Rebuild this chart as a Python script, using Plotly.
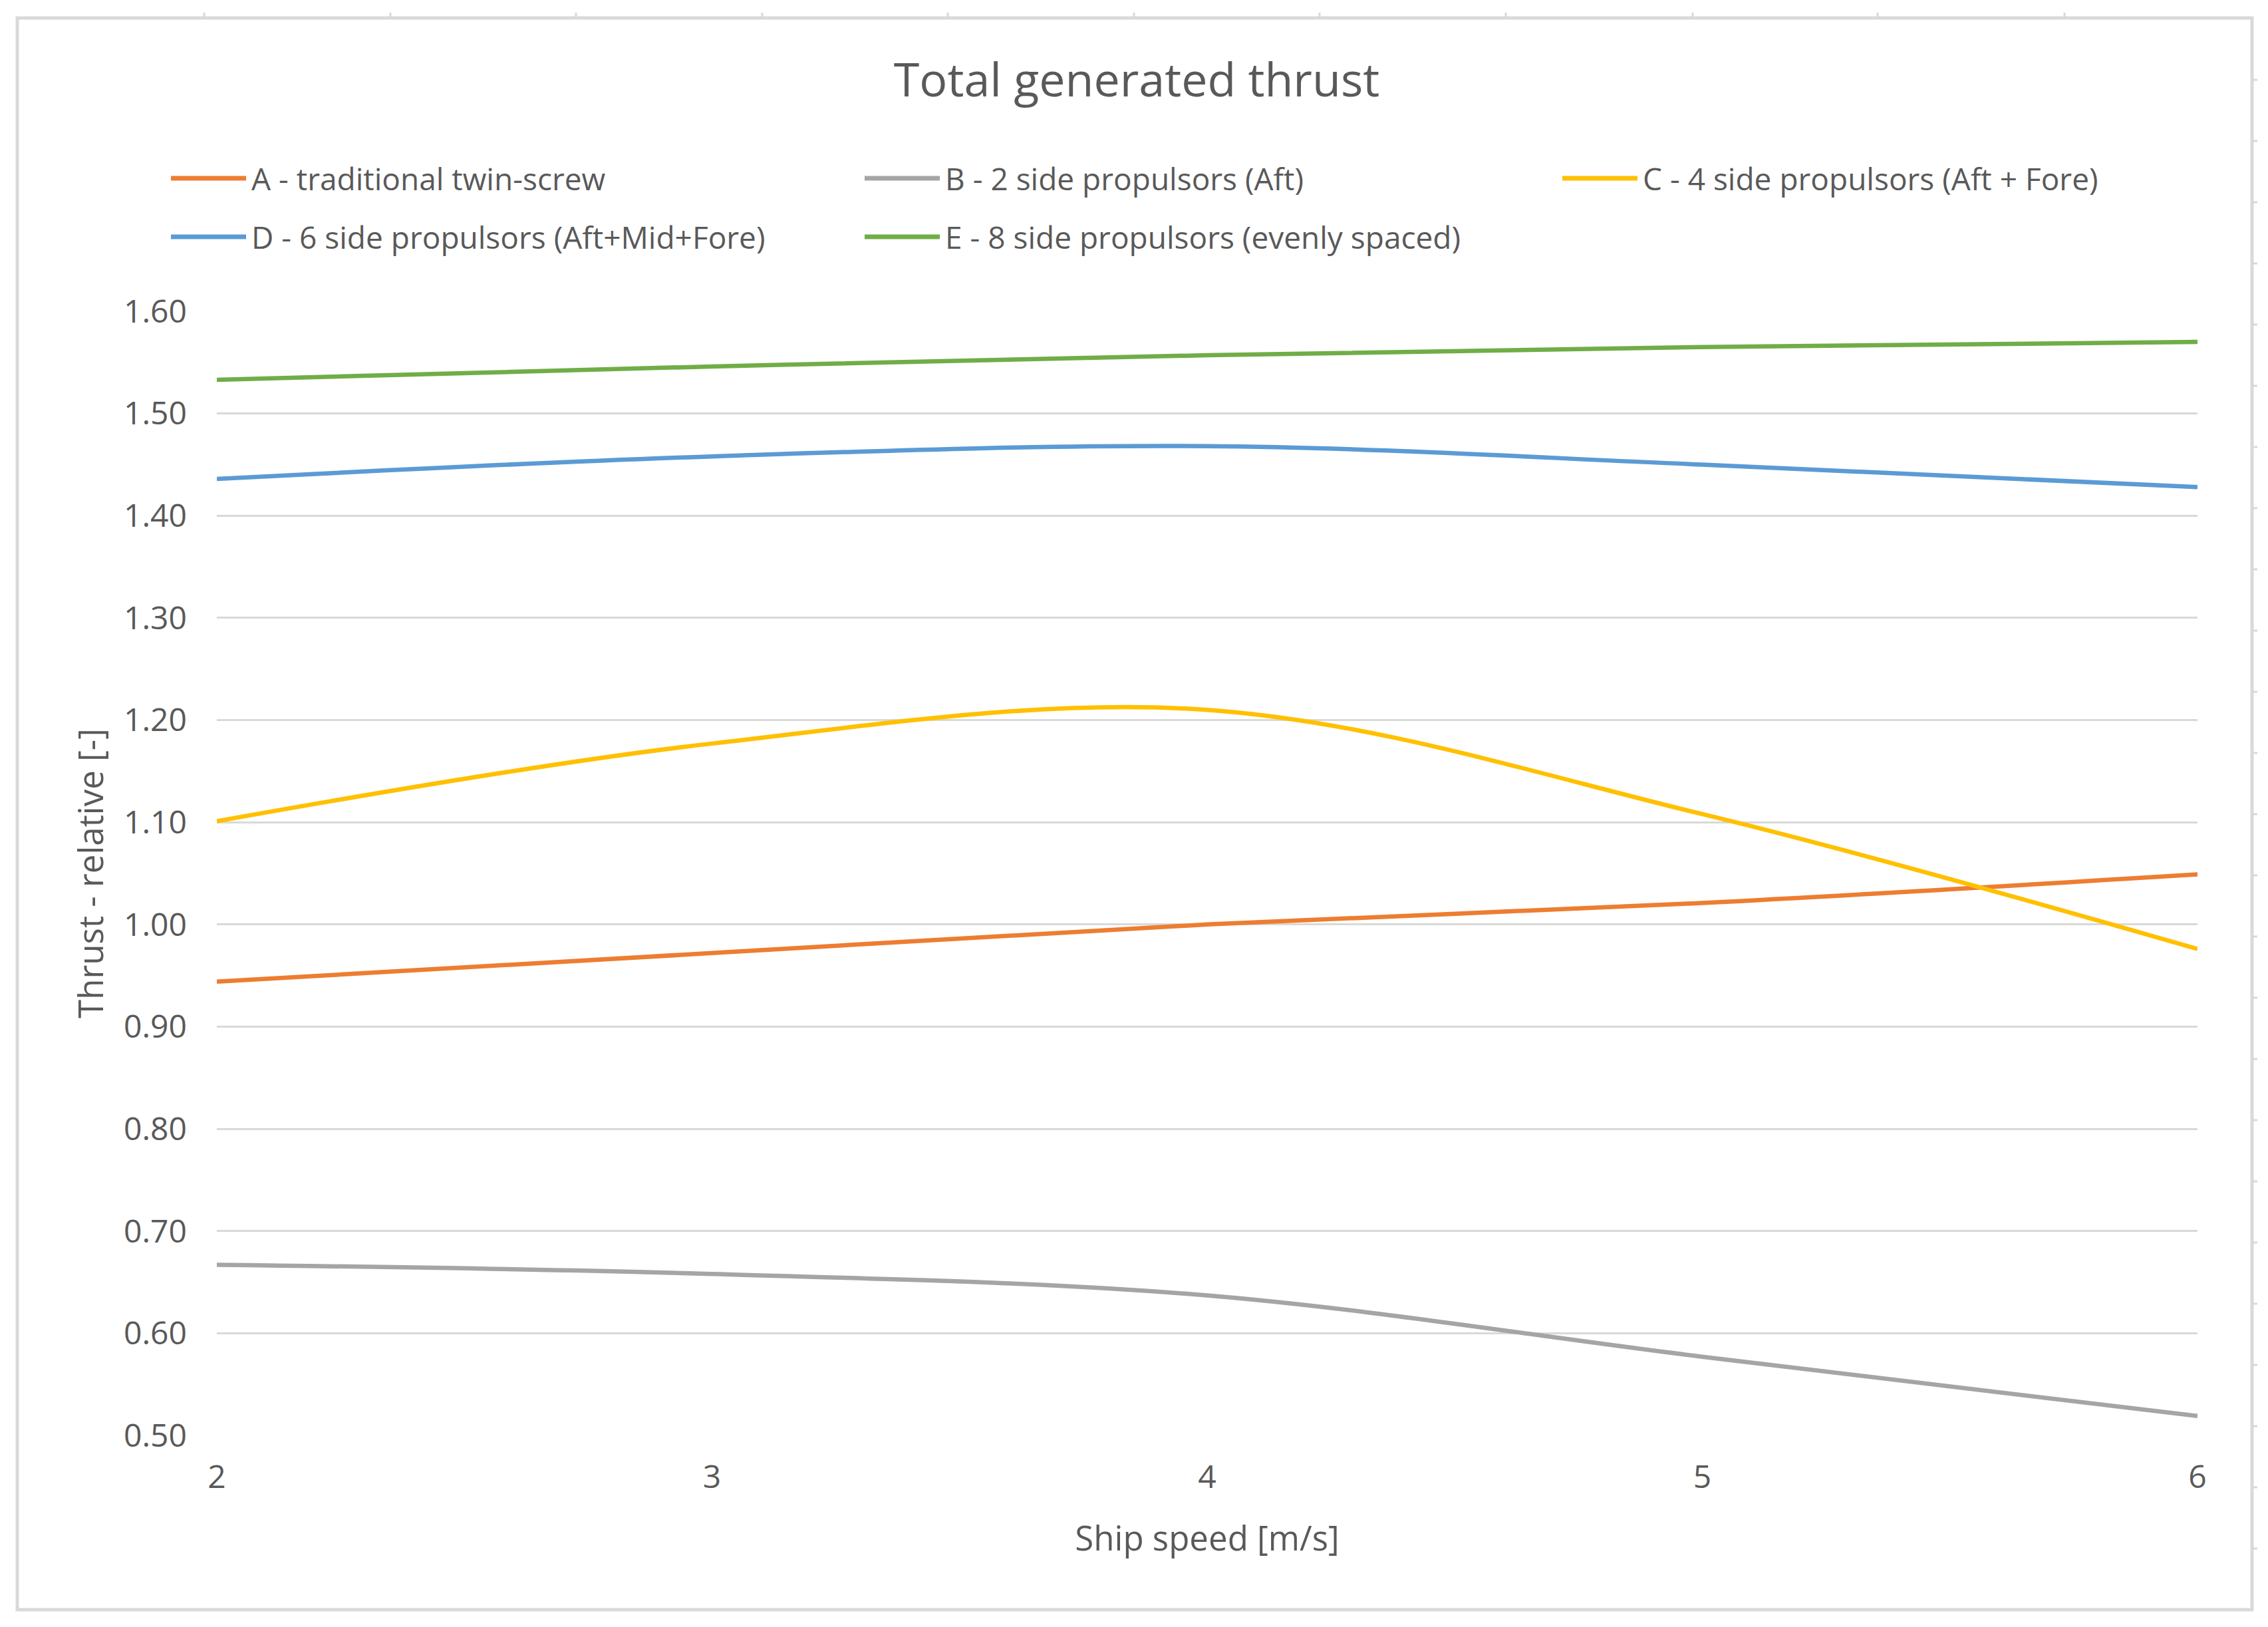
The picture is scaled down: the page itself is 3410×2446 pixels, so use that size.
import plotly.graph_objects as go

# ---------------- data ----------------
speed = [2, 3, 4, 5, 6]
series_names = [
    "A - traditional twin-screw",
    "B - 2 side propulsors (Aft)",
    "C - 4 side propulsors (Aft + Fore)",
    "D - 6 side propulsors (Aft+Mid+Fore)",
    "E - 8 side propulsors (evenly spaced)",
]
thrust_A = [0.944, 0.972, 1.000, 1.021, 1.049]
thrust_B = [0.667, 0.658, 0.637, 0.577, 0.519]
thrust_C = [1.101, 1.177, 1.210, 1.108, 0.976]
thrust_D = [1.436, 1.458, 1.468, 1.450, 1.428]
thrust_E = [1.533, 1.546, 1.557, 1.565, 1.570]
series_values = [thrust_A, thrust_B, thrust_C, thrust_D, thrust_E]
series_colors = ["#ED7D31", "#A5A5A5", "#FFC000", "#5B9BD5", "#70AD47"]
y_tick_values = [0.50, 0.60, 0.70, 0.80, 0.90, 1.00, 1.10, 1.20, 1.30, 1.40, 1.50, 1.60]
x_tick_values = [2, 3, 4, 5, 6]

title_text = "Total generated thrust"
x_title = "Ship speed [m/s]"
y_title = "Thrust - relative [-]"

# ---------------- layout geometry ----------------
OFF = 8                      # default page body margin
W, H = 3410 - OFF, 2446 - OFF
L, T = 326 - OFF, 468 - OFF  # plot area left / top (page px minus body margin)
R = 3410 - 3304
B = 2446 - 2158
PW, PH = W - L - R, H - T - B
FONT = "Open Sans"
TXT = "#595959"
GRID = "#D9D9D9"


def px(x):
    """page x pixel -> paper fraction"""
    return (x - OFF - L) / PW


def py(y):
    """page y pixel -> paper fraction"""
    return 1 - (y - OFF - T) / PH


fig = go.Figure()
for name, vals, col in zip(series_names, series_values, series_colors):
    fig.add_trace(go.Scatter(
        x=speed, y=vals, name=name, mode="lines",
        line=dict(color=col, width=6.5, shape="spline", smoothing=1.0),
        showlegend=False,
    ))

shapes = []
# outer chart border
shapes.append(dict(type="rect", xref="paper", yref="paper",
                   x0=px(26), x1=px(3386), y0=py(2420), y1=py(27),
                   line=dict(color=GRID, width=5), layer="below"))
# small sheet ticks along top and right edge
for tx in [307, 587, 866, 1146, 1425, 1705, 1984, 2264, 2545, 2823, 3104]:
    shapes.append(dict(type="line", xref="paper", yref="paper",
                       x0=px(tx), x1=px(tx), y0=py(27), y1=py(19),
                       line=dict(color=GRID, width=3)))
ty = 120
while ty < 2415:
    shapes.append(dict(type="line", xref="paper", yref="paper",
                       x0=px(3386), x1=px(3394), y0=py(ty), y1=py(ty),
                       line=dict(color=GRID, width=3)))
    ty += 92

# custom legend (Excel style, long line samples)
leg_cols = [257, 1300, 2349]
leg_rows = [268, 356]
annotations = []
for i, (name, col) in enumerate(zip(series_names, series_colors)):
    cx = leg_cols[i % 3]
    cy = leg_rows[i // 3]
    shapes.append(dict(type="line", xref="paper", yref="paper",
                       x0=px(cx), x1=px(cx + 113), y0=py(cy), y1=py(cy),
                       line=dict(color=col, width=7)))
    annotations.append(dict(xref="paper", yref="paper", x=px(cx + 119), y=py(cy),
                            xanchor="left", yanchor="middle", text=name,
                            showarrow=False, font=dict(family=FONT, size=46, color=TXT)))

fig.update_layout(
    width=W, height=H,
    margin=dict(l=L, r=R, t=T, b=B, autoexpand=False),
    paper_bgcolor="white", plot_bgcolor="white",
    font=dict(family=FONT, color=TXT),
    title=dict(text=title_text, x=0.5, xref="container", xanchor="center",
               y=1 - (120 - OFF) / H, yref="container", yanchor="middle",
               font=dict(family=FONT, size=70, color=TXT)),
    shapes=shapes,
    annotations=annotations,
    showlegend=False,
)
fig.update_xaxes(
    range=[2, 6], tickvals=x_tick_values, showgrid=False, zeroline=False,
    showline=False, ticks="", ticklabelstandoff=30,
    tickfont=dict(family=FONT, size=48, color=TXT),
    title=dict(text=x_title, standoff=45, font=dict(family=FONT, size=51, color=TXT)),
)
fig.update_yaxes(
    range=[0.5, 1.6], tickvals=y_tick_values, tickformat=".2f",
    showgrid=True, gridcolor=GRID, gridwidth=3, zeroline=False,
    showline=False, ticks="", ticklabelstandoff=44,
    tickfont=dict(family=FONT, size=48, color=TXT),
    title=dict(text=y_title, standoff=14, font=dict(family=FONT, size=51, color=TXT)),
)

fig.write_html("out.html")
